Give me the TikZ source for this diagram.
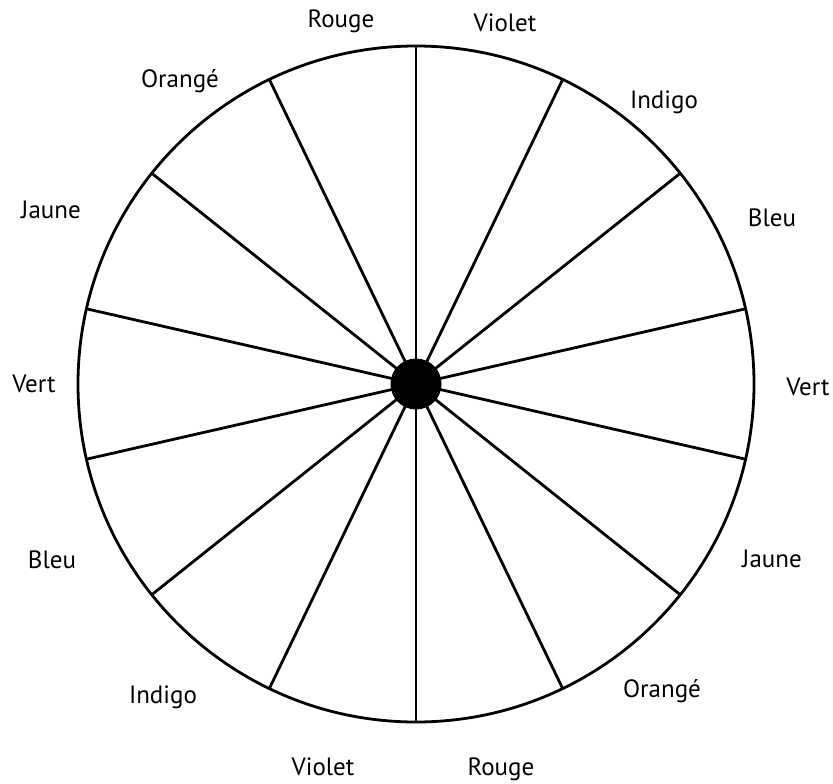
\documentclass[tikz,border=0pt]{standalone}
\usepackage{fontspec}
\setmainfont{PT Sans}
\usepackage{tikz}
\usetikzlibrary{positioning}

\tikzset{
  wheel/.style={line width=2.8pt, black},
  couleur/.style={anchor=base, inner sep=0pt, font=\fontsize{25}{28}\selectfont}
}

\begin{document}
\begin{tikzpicture}[x=1pt, y=1pt]
    \useasboundingbox (0,0) rectangle (833,-784);

    % roue
    \coordinate (centre) at (416,-384);
    \draw[wheel] (centre) circle (338);
    \foreach \k in {0,...,13} {
        \draw[wheel] (centre) -- ++({90+\k*360/14}:338);
    }
    \node[circle, fill=black, minimum size=51pt, inner sep=0pt] (moyeu) at (centre) {};

    % couleurs, sens horaire depuis le haut
    \node[couleur] (rouge1)  at (341,-28)  {Rouge};
    \node[couleur] (violet1) at (505,-32)  {Violet};
    \node[couleur] (indigo1) at (664,-108) {Indigo};
    \node[couleur] (bleu1)   at (772,-226) {Bleu};
    \node[couleur] (vert1)   at (808,-395) {Vert};
    \node[couleur] (jaune1)  at (772,-567) {Jaune};
    \node[couleur] (orange1) at (662,-697) {Orangé};
    \node[couleur] (rouge2)  at (501,-775) {Rouge};
    \node[couleur] (violet2) at (323,-775) {Violet};
    \node[couleur] (indigo2) at (163,-703) {Indigo};
    \node[couleur] (bleu2)   at (52,-568)  {Bleu};
    \node[couleur] (vert2)   at (34,-392)  {Vert};
    \node[couleur] (jaune2)  at (51,-218)  {Jaune};
    \node[couleur] (orange2) at (180,-88)  {Orangé};
\end{tikzpicture}
\end{document}
